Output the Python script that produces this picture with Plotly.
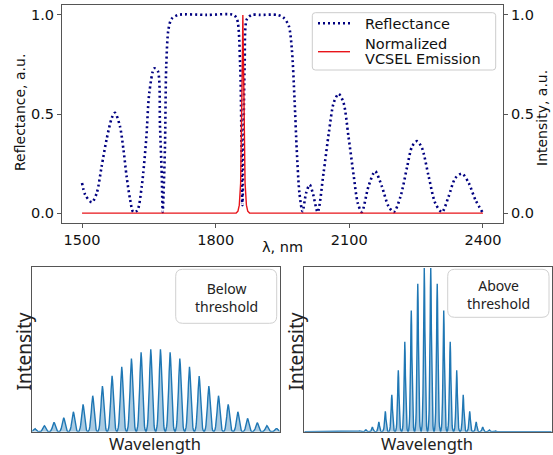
import plotly.graph_objects as go

W, H = 553, 455

# ---------------- data: top chart ----------------
refl_wl = [1500, 1507, 1522, 1533, 1544, 1555, 1567, 1574, 1585, 1593,
           1600, 1608, 1615, 1624, 1634, 1644, 1651, 1662, 1670, 1675,
           1679, 1681, 1686, 1689, 1694, 1701, 1716, 1780, 1840, 1848,
           1855, 1860, 1865, 1870, 1881, 1900, 1938, 1952, 1964, 1971,
           1977, 1982, 1988, 1995, 2003, 2011, 2018, 2029, 2042, 2054,
           2065, 2076, 2087, 2098, 2110, 2119, 2128, 2143, 2158, 2173,
           2188, 2200, 2215, 2230, 2241, 2252, 2263, 2278, 2293, 2308,
           2323, 2338, 2353, 2368, 2383, 2400]
refl_val = [0.152, 0.093, 0.054, 0.101, 0.236, 0.371, 0.481, 0.506, 0.439, 0.32,
            0.186, 0.067, 0.005, 0.013, 0.135, 0.371, 0.607, 0.73, 0.717, 0.439,
            0.186, 0.005, 0.32, 0.742, 0.928, 0.98, 1.0, 1.0, 1.0, 0.978,
            0.742, 0.04, 0.742, 0.978, 1.0, 1.0, 1.0, 0.987, 0.945, 0.827,
            0.574, 0.32, 0.101, 0.008, 0.101, 0.143, 0.101, 0.005, 0.2, 0.405,
            0.557, 0.602, 0.557, 0.388, 0.186, 0.05, 0.005, 0.135, 0.211, 0.135,
            0.034, 0.005, 0.084, 0.236, 0.337, 0.363, 0.329, 0.186, 0.05, 0.005,
            0.084, 0.177, 0.199, 0.152, 0.067, 0.0]

em_wl = [1500, 1846, 1850, 1853, 1856, 1858, 1859.5, 1861, 1862.5, 1864,
         1866, 1869, 1872, 1876, 2400]
em_val = [0, 0, 0.01, 0.04, 0.15, 0.38, 0.7, 1.0, 0.7, 0.38,
          0.15, 0.04, 0.01, 0, 0]

x_ticks = [1500, 1800, 2100, 2400]
y_ticks = [0.0, 0.5, 1.0]
y_ticktext = ["0.0", "0.5", "1.0"]

legend_labels = ["Reflectance", "Normalized", "VCSEL Emission"]

# ---------------- data: bottom panels ----------------
below_pos = [0.0096, 0.0487, 0.0878, 0.1270, 0.1661, 0.2053, 0.2444, 0.2836, 0.3227,
             0.3618, 0.4010, 0.4401, 0.4792, 0.5184, 0.5575, 0.5967, 0.6358, 0.6750,
             0.7141, 0.7532, 0.7924, 0.8315, 0.8707, 0.9098, 0.9490, 0.9881]
below_height = [0.020, 0.036, 0.057, 0.085, 0.121, 0.166, 0.218, 0.277, 0.339,
                0.394, 0.444, 0.481, 0.499, 0.499, 0.481, 0.444, 0.394, 0.337,
                0.277, 0.218, 0.166, 0.121, 0.081, 0.055, 0.036, 0.020]
below_spacing = 0.0391

above_pos = [0.1964, 0.2226, 0.2488, 0.2750, 0.3013, 0.3275, 0.3537, 0.3800,
             0.4062, 0.4324, 0.4587, 0.4849, 0.5111, 0.5373, 0.5636, 0.5898,
             0.6160, 0.6423, 0.6685, 0.6947, 0.7210, 0.7472, 0.7734, 0.7996]
above_height = [0.002, 0.005, 0.012, 0.028, 0.059, 0.124, 0.224, 0.372,
                0.545, 0.735, 0.897, 0.992, 0.992, 0.897, 0.735, 0.545,
                0.372, 0.224, 0.124, 0.059, 0.028, 0.012, 0.005, 0.002]
above_spacing = 0.0262

# single-mode line profile (offset in units of mode spacing -> relative intensity)
prof_u = [-0.5, -0.45, -0.4, -0.35, -0.3, -0.25, -0.2, -0.15, -0.1, -0.05, 0.0,
          0.05, 0.1, 0.15, 0.2, 0.25, 0.3, 0.35, 0.4, 0.45, 0.5]
below_prof = [0.0, 0.01, 0.03, 0.07, 0.14, 0.24, 0.38, 0.55, 0.75, 0.92, 1.0,
              0.92, 0.75, 0.55, 0.38, 0.24, 0.14, 0.07, 0.03, 0.01, 0.0]
above_prof = [0.0, 0.005, 0.015, 0.035, 0.07, 0.13, 0.24, 0.4, 0.62, 0.88, 1.0,
              0.88, 0.62, 0.4, 0.24, 0.13, 0.07, 0.035, 0.015, 0.005, 0.0]


def comb(pos, heights, spacing, prof):
    xs, ys = [0.0], [0.0]
    for p, h in zip(pos, heights):
        for u, v in zip(prof_u, prof):
            xs.append(p + u * spacing)
            ys.append(h * v)
    xs.append(1.0)
    ys.append(0.0)
    return xs, ys


bx, by = comb(below_pos, below_height, below_spacing, below_prof)
ax_, ay_ = comb(above_pos, above_height, above_spacing, above_prof)

# ---------------- figure ----------------
def PX(x):
    return x / W


def PY(y):
    return 1 - y / H


NAVY = "#000080"
RED = "#e8141a"
REFL_DASH = "2px,3px"

fig = go.Figure()
fig.add_trace(go.Scatter(x=refl_wl, y=refl_val, mode="lines", name="Reflectance",
                         line=dict(color=NAVY, width=2.6, dash=REFL_DASH,
                                   shape="spline", smoothing=0.8),
                         showlegend=False, xaxis="x", yaxis="y"))
fig.add_trace(go.Scatter(x=em_wl, y=em_val, mode="lines",
                         name="Normalized VCSEL Emission",
                         line=dict(color=RED, width=1.4),
                         showlegend=False, xaxis="x", yaxis="y2"))

blue = "#1f77b4"
fill = "rgba(31,119,180,0.38)"
fig.add_trace(go.Scatter(x=bx, y=by, mode="lines", fill="tozeroy", fillcolor=fill,
                         line=dict(color=blue, width=1.4), showlegend=False,
                         xaxis="x3", yaxis="y3"))
fig.add_trace(go.Scatter(x=ax_, y=ay_, mode="lines", fill="tozeroy", fillcolor=fill,
                         line=dict(color=blue, width=1.4), showlegend=False,
                         xaxis="x4", yaxis="y4"))

tick_font = dict(family="DejaVu Sans", size=14.5, color="#111")
frame = "#555"

bottom_axis = dict(showticklabels=False, ticks="", showgrid=False, zeroline=False,
                   showline=True, mirror=True, linecolor=frame, linewidth=1,
                   range=[0, 1], fixedrange=True)


def rrect(x0, y0, x1, y1, r, color="#d0d0d0"):
    pts = [
        f"M {PX(x0 + r)},{PY(y0)}",
        f"L {PX(x1 - r)},{PY(y0)}",
        f"Q {PX(x1)},{PY(y0)} {PX(x1)},{PY(y0 + r)}",
        f"L {PX(x1)},{PY(y1 - r)}",
        f"Q {PX(x1)},{PY(y1)} {PX(x1 - r)},{PY(y1)}",
        f"L {PX(x0 + r)},{PY(y1)}",
        f"Q {PX(x0)},{PY(y1)} {PX(x0)},{PY(y1 - r)}",
        f"L {PX(x0)},{PY(y0 + r)}",
        f"Q {PX(x0)},{PY(y0)} {PX(x0 + r)},{PY(y0)}",
        "Z",
    ]
    return dict(type="path", xref="paper", yref="paper", path=" ".join(pts),
                line=dict(color=color, width=1), fillcolor="rgba(255,255,255,0.9)",
                layer="above")


def seg(x0, x1, y, color, width, dash="solid"):
    return dict(type="line", xref="paper", yref="paper", x0=PX(x0), x1=PX(x1),
                y0=PY(y), y1=PY(y), line=dict(color=color, width=width, dash=dash),
                layer="above")


def ann(text, x, y, size, angle=0, family="DejaVu Sans", color="#111", xanchor="center"):
    return dict(text=text, x=PX(x), y=PY(y), xref="paper", yref="paper",
                showarrow=False, xanchor=xanchor, yanchor="middle",
                textangle=angle, font=dict(family=family, size=size, color=color))


fig.update_layout(
    width=W, height=H, margin=dict(l=0, r=0, t=0, b=0),
    paper_bgcolor="white", plot_bgcolor="white", showlegend=False,
    xaxis=dict(domain=[PX(62), PX(503)], range=[1455, 2445], tickvals=x_ticks,
               ticks="outside", ticklen=4, tickcolor=frame, tickfont=tick_font,
               showline=True, mirror=True, linecolor=frame, linewidth=1,
               showgrid=False, zeroline=False, anchor="y"),
    yaxis=dict(domain=[PY(223), PY(5)], range=[-0.05, 1.05], tickvals=y_ticks,
               ticktext=y_ticktext, ticks="outside", ticklen=4, tickcolor=frame,
               tickfont=tick_font, showline=True, mirror=True, linecolor=frame,
               linewidth=1, showgrid=False, zeroline=False, anchor="x"),
    yaxis2=dict(overlaying="y", side="right", range=[-0.05, 1.05], tickvals=y_ticks,
                ticktext=y_ticktext, ticks="outside", ticklen=4, tickcolor=frame,
                tickfont=tick_font, showline=False, showgrid=False, zeroline=False,
                anchor="x"),
    xaxis3=dict(domain=[PX(32.3), PX(279.5)], anchor="y3", **bottom_axis),
    yaxis3=dict(domain=[PY(431.7), PY(266.7)], anchor="x3", **bottom_axis),
    xaxis4=dict(domain=[PX(304.3), PX(551.7)], anchor="y4", **bottom_axis),
    yaxis4=dict(domain=[PY(431.7), PY(266.7)], anchor="x4", **bottom_axis),
    shapes=[
        rrect(312.3, 12.7, 495.7, 70, 3, "#cccccc"),
        seg(318, 350, 23.3, NAVY, 2.6, REFL_DASH),
        seg(318, 350, 51.7, RED, 1.4),
        rrect(175.7, 269.3, 276.7, 323.3, 7),
        rrect(447.7, 269.3, 549, 317.3, 7),
    ],
    annotations=[
        ann(legend_labels[0], 363, 24, 14.5, xanchor="left"),
        ann(legend_labels[1], 363, 43.5, 14.5, xanchor="left"),
        ann(legend_labels[2], 363, 59, 14.5, xanchor="left"),
        ann("λ, nm", 282.5, 247.5, 14.5),
        ann("Reflectance, a.u.", 20, 113, 14, -90),
        ann("Intensity, a.u.", 542, 118, 14, -90),
        ann("Intensity", 23, 351.5, 19, -90, "Noto Sans", "#222"),
        ann("Intensity", 295, 351.5, 19, -90, "Noto Sans", "#222"),
        ann("Wavelength", 155, 443, 16.5, 0, "Noto Sans", "#222"),
        ann("Wavelength", 426.7, 443, 16.5, 0, "Noto Sans", "#222"),
        ann("Below<br>threshold", 226, 297, 14, 0, "Noto Sans", "#222"),
        ann("Above<br>threshold", 498.3, 294, 14, 0, "Noto Sans", "#222"),
    ],
)

fig.write_html("out.html", config={"displayModeBar": False},
               post_script="document.body.style.margin='0';document.body.style.overflow='hidden';")
